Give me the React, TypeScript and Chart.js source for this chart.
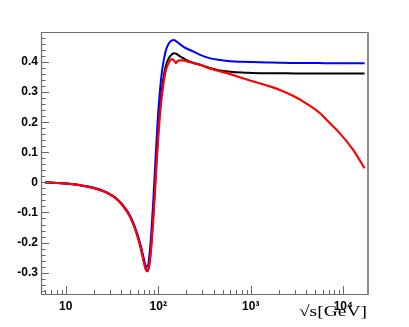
import { useEffect, useRef } from "react";
import { Chart, registerables } from "chart.js";

Chart.register(...registerables);

// sqrt(s) in GeV
const sqrtS = [6, 8, 10, 14, 20, 28, 35, 42, 50, 58, 65, 70, 74, 77, 80, 84, 88, 92, 96, 100, 105, 110, 116, 122, 130, 140, 148, 155, 163, 172, 186, 200, 240, 284, 350, 468, 600, 800, 1000, 1500, 2000, 3000, 4000, 5600, 7000, 9200, 12800, 17000];

const redValues = [0, -0.002, -0.004, -0.009, -0.019, -0.035, -0.054, -0.08, -0.117, -0.168, -0.222, -0.266, -0.292, -0.293, -0.275, -0.215, -0.13, -0.035, 0.065, 0.15, 0.235, 0.295, 0.345, 0.378, 0.398, 0.41, 0.405, 0.397, 0.404, 0.406, 0.406, 0.403, 0.397, 0.391, 0.38, 0.369, 0.36, 0.347, 0.338, 0.322, 0.309, 0.285, 0.262, 0.23, 0.2, 0.163, 0.108, 0.047];

const blackValues = [0, -0.002, -0.004, -0.009, -0.018, -0.034, -0.053, -0.079, -0.115, -0.165, -0.218, -0.262, -0.29, -0.296, -0.272, -0.205, -0.115, -0.015, 0.085, 0.17, 0.255, 0.315, 0.362, 0.393, 0.413, 0.425, 0.429, 0.428, 0.424, 0.419, 0.413, 0.407, 0.397, 0.391, 0.382, 0.372, 0.368, 0.365, 0.364, 0.363, 0.363, 0.362, 0.362, 0.362, 0.362, 0.362, 0.362, 0.362];

const blueValues = [0, -0.002, -0.004, -0.009, -0.018, -0.034, -0.053, -0.078, -0.113, -0.162, -0.213, -0.255, -0.279, -0.278, -0.245, -0.17, -0.07, 0.04, 0.145, 0.235, 0.315, 0.372, 0.415, 0.443, 0.462, 0.472, 0.473, 0.47, 0.465, 0.459, 0.452, 0.446, 0.435, 0.424, 0.414, 0.407, 0.403, 0.401, 0.4, 0.399, 0.398, 0.397, 0.397, 0.397, 0.396, 0.396, 0.396, 0.396];

const xTickValues = [10, 100, 1000, 10000];
const xTickLabels = ["10", "10²", "10³", "10⁴"];
const yTickValues = [-0.3, -0.2, -0.1, 0, 0.1, 0.2, 0.3, 0.4];
const xMinorMultipliers = [2, 3, 4, 5, 6, 7, 8, 9];
const xDecades = [1, 10, 100, 1000, 10000];
const axisTitle = "√s[GeV]";

const X_MIN = 5.4;
const X_MAX = 18500;
const Y_MIN = -0.371;
const Y_MAX = 0.5;

const framePlugin = {
  id: "rootFrame",
  afterDatasetsDraw(chart: any) {
    const { ctx, chartArea } = chart;
    const { left, right, top, bottom } = chartArea;
    const xs = chart.scales.x;
    const ys = chart.scales.y;
    ctx.save();
    ctx.strokeStyle = "#666666";
    ctx.lineWidth = 1;
    // y ticks (inside)
    for (let i = -18; i <= 25; i++) {
      const v = i * 0.02;
      if (v < Y_MIN || v > Y_MAX - 0.005) continue;
      const major = i % 5 === 0;
      const py = Math.round(ys.getPixelForValue(v)) + 0.5;
      ctx.beginPath();
      ctx.moveTo(left, py);
      ctx.lineTo(left + (major ? 8 : 4.5), py);
      ctx.stroke();
    }
    // x ticks (inside)
    for (const d of xDecades) {
      for (const m of [1, ...xMinorMultipliers]) {
        const v = m * d;
        if (v < X_MIN || v > X_MAX) continue;
        const major = m === 1;
        const px = Math.round(xs.getPixelForValue(v)) + 0.5;
        ctx.beginPath();
        ctx.moveTo(px, bottom);
        ctx.lineTo(px, bottom - (major ? 8 : 4));
        ctx.stroke();
      }
    }
    // frame
    ctx.strokeStyle = "#6e6e6e";
    ctx.lineWidth = 1.2;
    ctx.beginPath();
    ctx.moveTo(left + 0.5, bottom + 0.5);
    ctx.lineTo(left + 0.5, top + 0.5);
    ctx.lineTo(right, top + 0.5);
    ctx.stroke();
    ctx.beginPath();
    ctx.moveTo(left, bottom + 0.5);
    ctx.lineTo(right, bottom + 0.5);
    ctx.stroke();
    ctx.strokeStyle = "#8a8a8a";
    ctx.lineWidth = 2;
    ctx.beginPath();
    ctx.moveTo(right, top);
    ctx.lineTo(right, bottom + 1);
    ctx.stroke();
    // axis title (horizontally stretched like the reference)
    ctx.fillStyle = "#000";
    ctx.font = '15px "Liberation Serif"';
    ctx.textAlign = "right";
    ctx.textBaseline = "alphabetic";
    ctx.translate(right - 1, 316);
    ctx.scale(1.3, 1);
    ctx.fillText(axisTitle, 0, 0);
    ctx.restore();
  },
};

export default function App() {
  const ref = useRef<HTMLCanvasElement | null>(null);
  useEffect(() => {
    if (!ref.current) return;
    const chart = new Chart(ref.current, {
      type: "line",
      data: {
        datasets: [
          {
            label: "red",
            data: sqrtS.map((x, i) => ({ x, y: redValues[i] })),
            borderColor: "#ff0000",
            borderWidth: 2.2,
            pointRadius: 0,
            cubicInterpolationMode: "monotone",
            fill: false,
          },
          {
            label: "blue",
            data: sqrtS.map((x, i) => ({ x, y: blueValues[i] })),
            borderColor: "#0000ff",
            borderWidth: 2,
            pointRadius: 0,
            cubicInterpolationMode: "monotone",
            fill: false,
          },
          {
            label: "black",
            data: sqrtS.map((x, i) => ({ x, y: blackValues[i] })),
            borderColor: "#000000",
            borderWidth: 2,
            pointRadius: 0,
            cubicInterpolationMode: "monotone",
            fill: false,
          },
        ],
      },
      options: {
        animation: false,
        responsive: false,
        devicePixelRatio: 1,
        layout: { padding: { top: 32, right: 41, left: 0, bottom: 0 } },
        plugins: { legend: { display: false }, tooltip: { enabled: false } },
        scales: {
          x: {
            type: "logarithmic",
            min: X_MIN,
            max: X_MAX,
            grid: { display: false, drawTicks: false },
            border: { display: false },
            afterFit: (scale: any) => {
              scale.height = 33;
            },
            afterBuildTicks: (scale: any) => {
              scale.ticks = xTickValues.map((v) => ({ value: v }));
            },
            ticks: {
              autoSkip: false,
              maxRotation: 0,
              padding: 5,
              color: "#000",
              font: { family: '"Liberation Sans", Arial', size: 12, weight: "bold" },
              callback: (value: any) => {
                const i = xTickValues.indexOf(Number(value));
                return i >= 0 ? xTickLabels[i] : "";
              },
            },
          },
          y: {
            type: "linear",
            min: Y_MIN,
            max: Y_MAX,
            grid: { display: false, drawTicks: false },
            border: { display: false },
            afterFit: (scale: any) => {
              scale.width = 41;
            },
            afterBuildTicks: (scale: any) => {
              scale.ticks = yTickValues.map((v) => ({ value: v }));
            },
            ticks: {
              autoSkip: false,
              padding: 3,
              color: "#000",
              font: { family: '"Liberation Sans", Arial', size: 12, weight: "bold" },
              callback: (value: any) => {
                const v = Number(value);
                if (Math.abs(v) < 1e-9) return "0";
                return v.toFixed(1);
              },
            },
          },
        },
      },
      plugins: [framePlugin],
    });
    return () => chart.destroy();
  }, []);
  return (
    <div style={{ position: "fixed", left: 0, top: 0, width: 409, height: 327, background: "#fff" }}>
      <canvas ref={ref} width={409} height={327} style={{ display: "block", width: 409, height: 327 }} />
    </div>
  );
}
